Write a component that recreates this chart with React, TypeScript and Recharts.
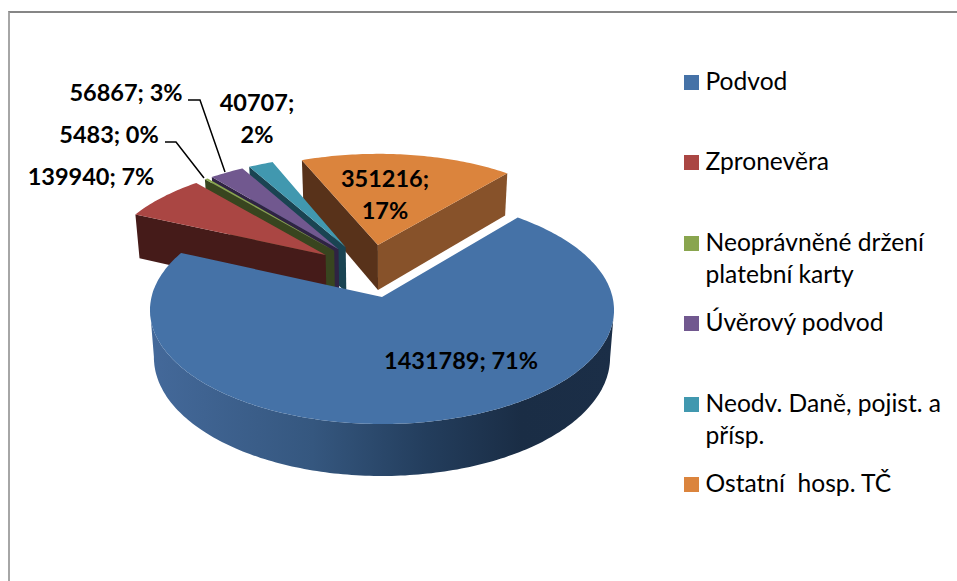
import React from 'react';
import { PieChart, Pie, Legend } from 'recharts';

const categories = ['Podvod', 'Zpronevěra', 'Neoprávněné držení platební karty', 'Úvěrový podvod', 'Neodv. Daně, pojist. a přísp.', 'Ostatní  hosp. TČ'];
const amounts = [1431789, 139940, 5483, 56867, 40707, 351216];

const COLORS = ['#4572A7', '#AA4643', '#89A54E', '#71588F', '#4198AF', '#DB843D'];
const START_WALLS = ['#2a4568', '#451b19', '#38451f', '#2f2343', '#1a4452', '#58321a'];
const END_WALLS = ['#2a4568', '#451b19', '#38451f', '#2f2343', '#1a4452', '#87522a'];

// drawn back to front, so the pie runs counter-clockwise over the reversed list
const pieData = categories
    .map((name, i) => ({ name, value: amounts[i], fill: COLORS[i], startWall: START_WALLS[i], endWall: END_WALLS[i] }))
    .reverse();

// fake 3D: flat disc coords go through a perspective projection
const PERSPECTIVE = 0.114;
const SCALE_X = 230.5;
const SCALE_Y = 112.5;
const EXPLODE = 0.249;
const SHIFT_U = -0.056;
const SHIFT_V = 0.2425;
const rad = (d: number) => (d * Math.PI) / 180;

function project(cx: number, cy: number, u: number, v: number) {
    const w = 1 + PERSPECTIVE * v;
    return { x: cx + (u * SCALE_X) / w, y: cy - (v * SCALE_Y) / w };
}

function drop(cx: number, p: { x: number; y: number }) {
    return { x: cx + (p.x - cx) * 0.983, y: p.y + 45 + ((p.y - 245) * 7) / 179 };
}

const toPath = (pts: { x: number; y: number }[]) =>
    'M' + pts.map((p) => `${p.x.toFixed(1)},${p.y.toFixed(1)}`).join('L') + 'Z';

function Slice3D(props: any) {
    const { cx, cy, startAngle, endAngle, fill, payload } = props;
    const a = 90 - startAngle;
    const b = 90 - endAngle;
    const lo = Math.min(a, b);
    const hi = Math.max(a, b);
    const mid = (lo + hi) / 2;
    const ou = SHIFT_U + EXPLODE * Math.sin(rad(mid));
    const ov = SHIFT_V + EXPLODE * Math.cos(rad(mid));
    const apex = project(cx, cy, ou, ov);
    const rimAt = (t: number) => project(cx, cy, ou + Math.sin(rad(t)), ov + Math.cos(rad(t)));

    const rim: { x: number; y: number }[] = [];
    for (let t = lo; t <= hi + 0.001; t += 1) rim.push(rimAt(Math.min(t, hi)));
    rim.push(rimAt(hi));

    // only the big slice shows its outer side, between its two widest points
    const isBlue = payload.name === categories[0];
    const xs = rim.map((p) => p.x);
    const frontRim = isBlue ? rim.slice(xs.indexOf(Math.max(...xs)), xs.indexOf(Math.min(...xs)) + 1) : [];

    const wall = (t: number) => {
        const p = rimAt(t);
        return [apex, p, drop(cx, p), drop(cx, apex)];
    };
    // a cut face only shows when its outward normal points to the viewer
    const showStart = Math.cos(rad(lo - 90)) < 0;
    const showEnd = Math.cos(rad(hi + 90)) < 0;

    return (
        <g>
            {showStart && <path d={toPath(wall(lo))} fill={payload.startWall} />}
            {showEnd && <path d={toPath(wall(hi))} fill={payload.endWall} />}
            {frontRim.length > 1 && (
                <path d={toPath([...frontRim, ...frontRim.map((p) => drop(cx, p)).reverse()])} fill="url(#blueRim)" />
            )}
            <path d={toPath([apex, ...rim])} fill={fill} />
        </g>
    );
}

const LABEL_STYLE = { fontFamily: 'Lato', fontWeight: 700, fontSize: 23.5, fill: '#000' };

// hand placed like in the source chart, x is the text centre
const LABEL_POS: Record<string, { x: number; y: number; split?: boolean; leader?: string }> = {
    [categories[0]]: { x: 461, y: 369 },
    [categories[1]]: { x: 91, y: 185 },
    [categories[2]]: { x: 109, y: 143, leader: '165,142 176,142 204,178' },
    [categories[3]]: { x: 126, y: 101, leader: '188,100 200,100 225,172' },
    [categories[4]]: { x: 257, y: 111, split: true },
    [categories[5]]: { x: 385, y: 187, split: true },
};

function renderLabel(props: any) {
    const { name, value, percent } = props;
    const pos = LABEL_POS[name];
    const pct = `${Math.round(percent * 100)}%`;
    return (
        <g>
            {pos.leader && <polyline points={pos.leader} fill="none" stroke="#000" strokeWidth={1.5} />}
            {pos.split ? (
                <>
                    <text x={pos.x} y={pos.y} textAnchor="middle" {...LABEL_STYLE}>{`${value};`}</text>
                    <text x={pos.x} y={pos.y + 32} textAnchor="middle" {...LABEL_STYLE}>{pct}</text>
                </>
            ) : (
                <text x={pos.x} y={pos.y} textAnchor="middle" {...LABEL_STYLE}>{`${value}; ${pct}`}</text>
            )}
        </g>
    );
}

const LEGEND_LINES = [['Podvod'], ['Zpronevěra'], ['Neoprávněné držení', 'platební karty'], ['Úvěrový podvod'], ['Neodv. Daně, pojist. a', 'přísp.'], ['Ostatní  hosp. TČ']];
const LEGEND_TOPS = [66, 146, 227, 307, 388, 468];

function renderLegend() {
    return (
        <div style={{ position: 'relative', width: 273, height: 500 }}>
            {categories.map((name, i) => (
                <div key={name} style={{ position: 'absolute', left: 0, top: LEGEND_TOPS[i] }}>
                    <div style={{ position: 'absolute', left: 0, top: 9, width: 15, height: 15, background: COLORS[i] }} />
                    <div style={{ marginLeft: 21.5, marginTop: -1, font: '24.6px/32px Lato', color: '#000', whiteSpace: 'pre' }}>
                        {LEGEND_LINES[i].map((line) => (
                            <div key={line}>{line}</div>
                        ))}
                    </div>
                </div>
            ))}
        </div>
    );
}

export default function App() {
    return (
        <div style={{ position: 'absolute', left: 0, top: 0, width: 957, height: 581, background: '#fff', overflow: 'hidden' }}>
            <div style={{ position: 'absolute', left: 8, top: 11, width: 949, height: 570, borderTop: '2px solid #868686', borderLeft: '2px solid #a6a6a6', boxSizing: 'border-box' }} />
            <div style={{ position: 'absolute', left: 0, top: 0 }}>
                <PieChart width={957} height={581} margin={{ top: 0, right: 0, bottom: 0, left: 0 }}>
                    <defs>
                        <linearGradient id="blueRim" gradientUnits="userSpaceOnUse" x1={150} y1={0} x2={614} y2={0}>
                            <stop offset="0%" stopColor="#44699a" />
                            <stop offset="35%" stopColor="#35577f" />
                            <stop offset="60%" stopColor="#233d5c" />
                            <stop offset="80%" stopColor="#1a2d45" />
                            <stop offset="100%" stopColor="#1b2e47" />
                        </linearGradient>
                    </defs>
                    <Pie
                        data={pieData}
                        dataKey="value"
                        nameKey="name"
                        cx={382}
                        cy={297}
                        outerRadius={232}
                        startAngle={50.2}
                        endAngle={410.2}
                        paddingAngle={0}
                        stroke="none"
                        shape={Slice3D}
                        label={renderLabel}
                        labelLine={false}
                        isAnimationActive={false}
                    />
                    <Legend content={renderLegend} wrapperStyle={{ position: 'absolute', left: 684, top: 0, width: 273, height: 581 }} />
                </PieChart>
            </div>
        </div>
    );
}
